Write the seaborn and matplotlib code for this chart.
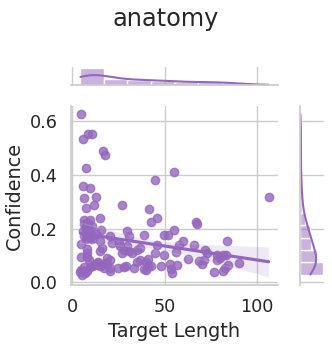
import numpy as np
import pandas as pd
import seaborn as sns
import matplotlib
matplotlib.use("Agg")
import matplotlib.pyplot as plt

title = "anatomy"
x_label = "Target Length"
y_label = "Confidence"
x_ticks = [0, 50, 100]
y_ticks = [0.0, 0.2, 0.4, 0.6]

target_length = [
    4.8, 5.7, 8.6, 10.8, 16.7, 17.9, 7.7, 54.8, 44.8, 106.1,
    5.7, 9.7, 12.7, 6.6, 11.6, 7.7, 26.7, 41.8, 14.9, 45.7,
    42.7, 66.7, 67.7, 6.6, 9.9, 6.3, 8.4, 10.8, 7.2, 15.8,
    6.3, 8.1, 10.8, 9.5, 20.6, 29.7, 30.8, 38.9, 49.8, 52.0,
    55.0, 4.8, 14.9, 21.5, 25.1, 60.0, 57.9, 65.9, 83.9, 29.6,
    26.0, 45.7, 16.1, 8.1, 8.1, 15.2, 28.3, 30.5, 32.3, 35.3,
    36.7, 26.9, 44.8, 55.9, 72.0, 72.6, 49.8, 78.0, 81.5, 83.3,
    4.8, 8.1, 9.0, 18.8, 17.6, 14.0, 36.7, 41.2, 40.0, 34.9,
    62.7, 68.6, 71.1, 79.7, 78.0, 90.1, 13.4, 20.6, 9.5, 10.8,
    11.6, 12.5, 16.1, 15.2, 17.0, 18.8, 20.6, 24.6, 27.8, 29.0,
    33.5, 38.9, 40.0, 40.9, 42.5, 48.0, 52.9, 56.8, 69.9, 84.2,
    82.4, 4.8, 6.3, 6.3, 7.2, 5.4, 4.5, 20.6, 53.9, 81.4,
    76.7, 53.2, 8.1, 6.0, 11.0, 13.0, 7.5, 9.0,
]
confidence = [
    0.625, 0.534, 0.550, 0.550, 0.488, 0.472, 0.426, 0.411, 0.381, 0.318,
    0.359, 0.352, 0.317, 0.312, 0.286, 0.275, 0.286, 0.273, 0.239, 0.239,
    0.226, 0.226, 0.216, 0.231, 0.231, 0.215, 0.221, 0.209, 0.202, 0.195,
    0.171, 0.171, 0.175, 0.165, 0.171, 0.191, 0.171, 0.176, 0.176, 0.176,
    0.195, 0.144, 0.153, 0.147, 0.147, 0.155, 0.139, 0.137, 0.152, 0.134,
    0.134, 0.137, 0.128, 0.124, 0.109, 0.118, 0.122, 0.116, 0.109, 0.122,
    0.128, 0.109, 0.109, 0.113, 0.120, 0.109, 0.101, 0.101, 0.101, 0.103,
    0.094, 0.093, 0.084, 0.091, 0.072, 0.076, 0.084, 0.088, 0.077, 0.075,
    0.088, 0.078, 0.084, 0.091, 0.084, 0.073, 0.072, 0.082, 0.056, 0.060,
    0.063, 0.066, 0.066, 0.060, 0.053, 0.070, 0.053, 0.053, 0.057, 0.060,
    0.053, 0.051, 0.047, 0.060, 0.062, 0.062, 0.070, 0.063, 0.070, 0.066,
    0.053, 0.047, 0.056, 0.041, 0.035, 0.029, 0.037, 0.041, 0.035, 0.043,
    0.040, 0.051, 0.041, 0.190, 0.160, 0.180, 0.160, 0.200,
]

df = pd.DataFrame({x_label: target_length, y_label: confidence})

sns.set_theme(style="whitegrid")
color = "tab:purple"

g = sns.jointplot(data=df, x=x_label, y=y_label, kind="reg", color=color,
                  height=3.46, joint_kws=dict(seed=0))
fig = g.figure
fig.set_size_inches(3.32, 3.46)
W, H = 332.0, 346.0

def box(l, t, r, b):
    return [l / W, 1 - b / H, (r - l) / W, (b - t) / H]

g.ax_joint.set_position(box(71, 106, 278, 285))
g.ax_marg_x.set_position(box(71, 67, 278, 85))
g.ax_marg_y.set_position(box(300, 106, 324, 285))

g.ax_joint.set_xticks(x_ticks)
g.ax_joint.set_yticks(y_ticks)
g.ax_joint.set_xticklabels([str(v) for v in x_ticks])
g.ax_joint.set_yticklabels([f"{v:.1f}" for v in y_ticks])
g.ax_joint.tick_params(labelsize=12.7)
g.ax_joint.set_xlabel(x_label, fontsize=13.9)
g.ax_joint.set_ylabel(y_label, fontsize=13.9)

fig.suptitle(title, fontsize=17.3, y=0.98)
fig.savefig("out.png", dpi=100)
